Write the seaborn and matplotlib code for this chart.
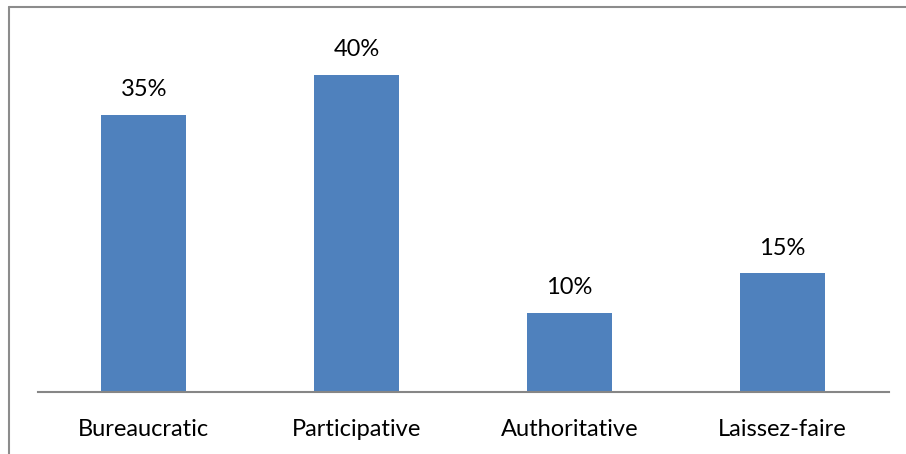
import matplotlib
matplotlib.use("Agg")
import matplotlib.pyplot as plt
import seaborn as sns
import pandas as pd
from matplotlib.lines import Line2D

styles = ["Bureaucratic", "Participative", "Authoritative", "Laissez-faire"]
shares = [0.35, 0.40, 0.10, 0.15]

df = pd.DataFrame({"style": styles, "share": shares})

sns.set_theme(style="white")
plt.rcParams["font.family"] = ["Lato", "DejaVu Sans"]

fig = plt.figure(figsize=(9.06, 4.54), dpi=100)
ax = fig.add_axes([0.0414, 0.1366, 0.9397, 0.7854])

sns.barplot(data=df, x="style", y="share", color="#4F81BD", saturation=1,
            width=0.4, linewidth=0, ax=ax)

ax.set_ylim(0, 0.45)
ax.set_xlim(-0.5, len(styles) - 0.5)
ax.set_yticks([])
ax.set_xlabel("")
ax.set_ylabel("")
for side in ["top", "right", "left"]:
    ax.spines[side].set_visible(False)
ax.spines["bottom"].set_color("#868686")
ax.spines["bottom"].set_linewidth(1.5)
ax.tick_params(axis="x", length=0, pad=19.5, labelsize=17, labelcolor="black")

for i, v in enumerate(shares):
    ax.annotate(f"{v:.0%}", (i, v), xytext=(0, 10.5), textcoords="offset points",
                ha="center", va="bottom", fontsize=17, color="black")

# chart frame (left and top edges)
fig.add_artist(Line2D([8.5 / 906, 8.5 / 906], [0, 1 - 6.5 / 454],
                      transform=fig.transFigure, color="#8C8C8C", lw=1.5))
fig.add_artist(Line2D([8.5 / 906, 1], [1 - 6.5 / 454, 1 - 6.5 / 454],
                      transform=fig.transFigure, color="#8C8C8C", lw=1.5))

fig.savefig("out.png", dpi=100, facecolor="white")
